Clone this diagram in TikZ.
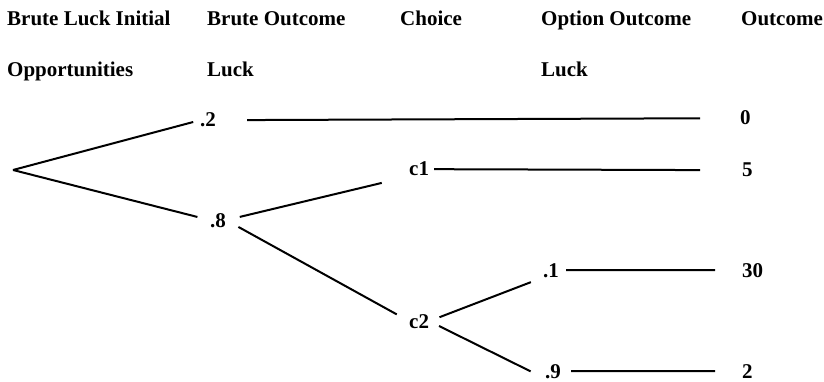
\documentclass[tikz,border=0pt]{standalone}
\usepackage{fontspec}
\setmainfont{Liberation Serif}

\begin{document}
\begin{tikzpicture}[x=1pt,y=-1pt,lbl/.style={anchor=base west,inner sep=0pt,font=\fontsize{21}{25}\selectfont\bfseries},br/.style={line width=2pt}]
\useasboundingbox (0,0) rectangle (824,382);
% column heads
\node[lbl] (h1a) at (7,26) {Brute Luck Initial};
\node[lbl] (h1b) at (7,77) {Opportunities};
\node[lbl] (h2a) at (207,26) {Brute Outcome};
\node[lbl] (h2b) at (207,77) {Luck};
\node[lbl] (h3a) at (400,26) {Choice};
\node[lbl] (h4a) at (541,26) {Option Outcome};
\node[lbl] (h4b) at (541,77) {Luck};
\node[lbl] (h5a) at (741,26) {Outcome};
% tree
\coordinate (root) at (13,170);
\node[lbl] (p2) at (200,127) {.2};
\node[lbl] (p8) at (210,227) {.8};
\node[lbl] (c1) at (409,176) {c1};
\node[lbl] (c2) at (409,328) {c2};
\node[lbl] (p1) at (543,277) {.1};
\node[lbl] (p9) at (545,378) {.9};
\node[lbl] (o0) at (740,125) {0};
\node[lbl] (o5) at (742,177) {5};
\node[lbl] (o30) at (742,277) {30};
\node[lbl] (o2) at (742,378) {2};
\draw[br,shorten >=7pt] (root) -- (p2.west);
\draw[br,shorten >=13pt] (root) -- (p8.west);
\draw[br,shorten <=31pt,shorten >=40pt] (p2.east) -- (o0.west);
\draw[br,shorten <=14pt,shorten >=28pt] (p8.east) -- (c1.south west);
\draw[br,shorten <=14pt,shorten >=14pt] (p8.east) -- (c2.west);
\draw[br,shorten <=5pt,shorten >=42pt] (c1.east) -- (o5.west);
\draw[br,shorten <=11pt,shorten >=13pt] (c2.east) -- (p1.south west);
\draw[br,shorten <=11pt,shorten >=16pt] (c2.east) -- (p9.south west);
\draw[br,shorten <=7pt,shorten >=27pt] (p1.east) -- (o30.west);
\draw[br,shorten <=10pt,shorten >=27pt] (p9.east) -- (o2.west);
\end{tikzpicture}
\end{document}
